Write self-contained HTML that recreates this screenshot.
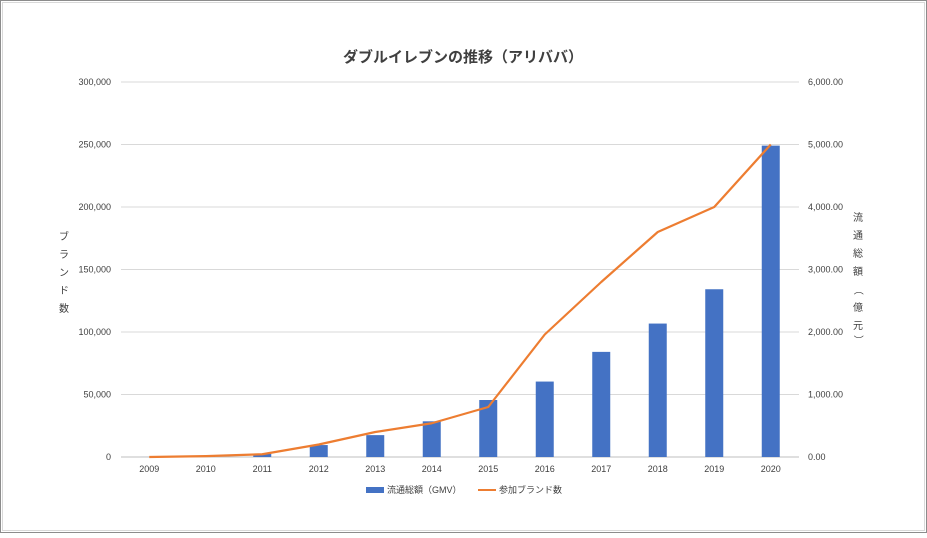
<!DOCTYPE html>
<html><head><meta charset="utf-8"><style>
body{margin:0;background:#fff;}
svg text{font-family:"Liberation Sans","Noto Sans CJK JP",sans-serif;fill:#404040;}
</style></head><body>
<svg width="927" height="533">
<rect x="0.5" y="0.5" width="926" height="532" fill="#fff" stroke="#8c8c8c" stroke-width="1"/>
<rect x="2.5" y="2.5" width="922" height="528" fill="none" stroke="#d9d9d9" stroke-width="1"/>
<text x="463" y="62" text-anchor="middle" font-size="15" font-weight="bold" style="fill:#404040">ダブルイレブンの推移（アリババ）</text>
<g id="grid"></g><g id="bars"></g><g id="line"></g><g id="axes"></g>
<g font-size="10">
<text x="64" y="240" text-anchor="middle">ブ</text><text x="64" y="258" text-anchor="middle">ラ</text><text x="64" y="276" text-anchor="middle">ン</text><text x="64" y="294" text-anchor="middle">ド</text><text x="64" y="312" text-anchor="middle">数</text>
</g>
<g font-size="10">
<text x="858" y="221" text-anchor="middle">流</text><text x="858" y="239" text-anchor="middle">通</text><text x="858" y="257" text-anchor="middle">総</text><text x="858" y="275" text-anchor="middle">額</text><text x="858" y="293" text-anchor="middle" transform="rotate(90 858 290)">（</text><text x="858" y="311" text-anchor="middle">億</text><text x="858" y="329" text-anchor="middle">元</text><text x="858" y="343" text-anchor="middle" transform="rotate(90 858 340)">）</text>
</g>
<g font-size="9">
<rect x="366" y="487" width="18" height="6" fill="#4472c4"/>
<text x="387" y="493">流通総額（GMV）</text>
<line x1="478" y1="490" x2="496" y2="490" stroke="#ed7d31" stroke-width="2"/>
<text x="499" y="493">参加ブランド数</text>
</g>
</svg>
<script>
const years=["2009","2010","2011","2012","2013","2014","2015","2016","2017","2018","2019","2020"];
const gmv=[0.5,9.36,52,191,350,571,912,1207,1682,2135,2684,4982];
const brands=[27,711,2200,10000,20000,27000,40000,98000,140000,180000,200000,250000];
const leftTicks=[0,50000,100000,150000,200000,250000,300000];
const rightTicks=[0,1000,2000,3000,4000,5000,6000];
const NS="http://www.w3.org/2000/svg";
const x0=121,x1=799,yb=457,yt=82;
const band=(x1-x0)/years.length;
const xc=i=>x0+band*(i+0.5);
const yL=v=>yb-(v/300000)*(yb-yt);
const yR=v=>yb-(v/6000)*(yb-yt);
function mk(tag,attrs,parent,txt){const e=document.createElementNS(NS,tag);for(const k in attrs)e.setAttribute(k,attrs[k]);if(txt!==undefined)e.textContent=txt;document.getElementById(parent).appendChild(e);return e;}
leftTicks.forEach((t,i)=>{
 const g=mk("line",{x1:x0,x2:x1,y1:yL(t),y2:yL(t),stroke:t===0?"#bfbfbf":"#d9d9d9","stroke-width":1},"grid");
 
 
 const l=mk("text",{x:111,y:yL(t)+3,"text-anchor":"end","font-size":9},"axes",t.toLocaleString("en-US"));
 
 
});
rightTicks.forEach(t=>{
 const l=mk("text",{x:808,y:yR(t)+3,"font-size":9},"axes",t.toLocaleString("en-US",{minimumFractionDigits:2}));
 
 
});
years.forEach((y,i)=>{
 const l=mk("text",{x:xc(i),y:472,"text-anchor":"middle","font-size":9},"axes",y);
 
 
 const b=mk("rect",{x:xc(i)-9,y:yR(gmv[i]),width:18,height:yb-yR(gmv[i]),fill:"#4472c4"},"bars");
 
 
});
const pts=brands.map((v,i)=>xc(i)+","+yL(v)).join(" ");
const pl=mk("polyline",{points:pts,fill:"none",stroke:"#ed7d31","stroke-width":2.2,"stroke-linejoin":"round"},"line");


</script>
</body></html>
